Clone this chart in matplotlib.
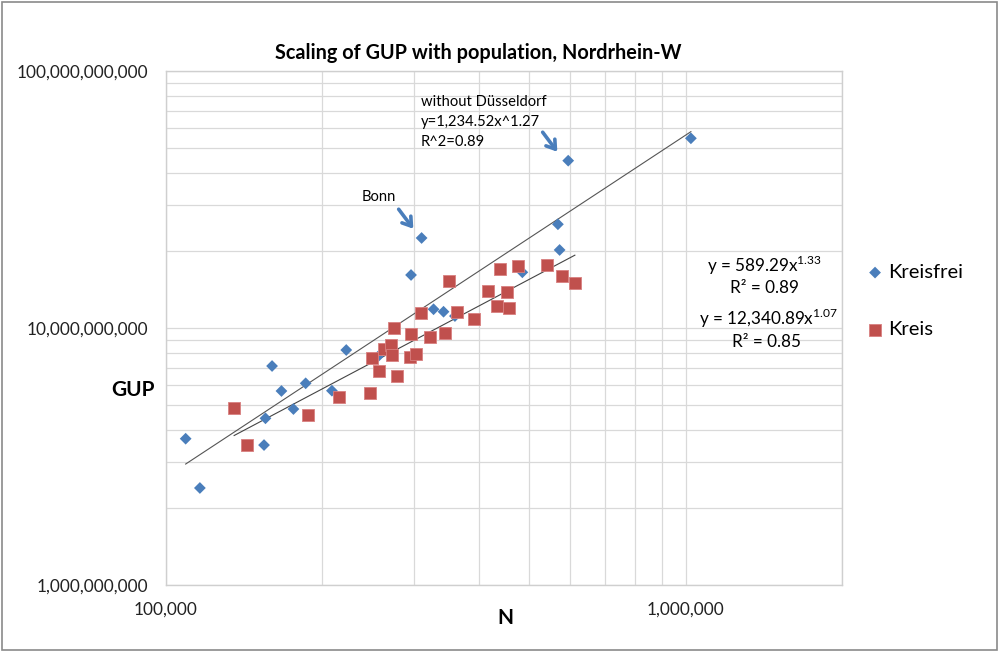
import numpy as np
import matplotlib
matplotlib.use("Agg")
import matplotlib.pyplot as plt
from matplotlib.ticker import LogLocator, FuncFormatter, NullFormatter
from matplotlib.patches import Rectangle, FancyArrowPatch

plt.rcParams['font.family'] = ['Lato', 'DejaVu Sans']
plt.rcParams['mathtext.fontset'] = 'custom'
plt.rcParams['mathtext.rm'] = 'Lato'

# kreisfreie Staedte: population, GUP
kf_pop = [109100, 116200, 154400, 155400, 160000, 166800, 175900, 185700, 208600,
          222300, 255600, 296200, 310400, 327300, 342100, 359800, 485100, 567900,
          572200, 594400, 1023800]
kf_gup = [3.709e9, 2.385e9, 3.504e9, 4.453e9, 7.114e9, 5.687e9, 4.838e9, 6.093e9,
          5.702e9, 8.211e9, 7.731e9, 1.608e10, 2.240e10, 1.183e10, 1.157e10,
          1.113e10, 1.647e10, 2.533e10, 2.012e10, 4.478e10, 5.472e10]

# Kreise: population, GUP
k_pop = [135250, 143350, 187500, 214800, 247500, 249100, 257500, 262300, 271200,
         272100, 275100, 277900, 294700, 296200, 302600, 309600, 322600, 344600,
         350800, 362900, 391900, 416900, 434400, 439000, 453900, 457300, 476000,
         541700, 578800, 612200]
k_gup = [4.868e9, 3.504e9, 4.586e9, 5.375e9, 5.570e9, 7.662e9, 6.801e9, 8.286e9,
         8.610e9, 7.830e9, 1.004e10, 6.505e9, 7.712e9, 9.478e9, 7.901e9, 1.139e10,
         9.226e9, 9.537e9, 1.530e10, 1.155e10, 1.081e10, 1.393e10, 1.221e10,
         1.696e10, 1.384e10, 1.200e10, 1.742e10, 1.758e10, 1.598e10, 1.492e10]

# power-law trendlines y = a * x^b
kf_a, kf_b = 589.29, 1.33
k_a, k_b = 12340.89, 1.07

blue = '#4a7ebb'
red = '#c0504d'
grid_c = '#d9d9d9'

W, H = 1000, 652
fig = plt.figure(figsize=(W / 100, H / 100), dpi=100)

def fx(px):
    return px / W

def fy(py):
    return 1 - py / H

ax = fig.add_axes([fx(166), fy(585), fx(842) - fx(166), fy(71) - fy(585)])
ax.set_xscale('log')
ax.set_yscale('log')
ax.set_xlim(1e5, 2e6)
ax.set_ylim(1e9, 1e11)

ax.xaxis.set_major_locator(LogLocator(base=10, numticks=10))
ax.xaxis.set_minor_locator(LogLocator(base=10, subs=np.arange(2, 10), numticks=20))
ax.yaxis.set_major_locator(LogLocator(base=10, numticks=10))
ax.yaxis.set_minor_locator(LogLocator(base=10, subs=np.arange(2, 10), numticks=20))
fmt = FuncFormatter(lambda v, p: '{:,.0f}'.format(v))
ax.xaxis.set_major_formatter(fmt)
ax.yaxis.set_major_formatter(fmt)
ax.xaxis.set_minor_formatter(NullFormatter())
ax.yaxis.set_minor_formatter(NullFormatter())
ax.grid(True, which='both', color=grid_c, lw=0.9)
ax.set_axisbelow(True)
ax.tick_params(which='both', length=0, labelsize=12.4, colors='#222222')
ax.tick_params(axis='x', pad=12)
ax.tick_params(axis='y', pad=13)
for s in ax.spines.values():
    s.set_color('#cfcfcf')
    s.set_linewidth(1.0)

# trendlines
xk = np.array([min(kf_pop), max(kf_pop)])
ax.plot(xk, kf_a * xk ** kf_b, color='#555555', lw=0.8, zorder=2)
xr = np.array([min(k_pop), max(k_pop)])
ax.plot(xr, k_a * xr ** k_b, color='#444444', lw=0.8, zorder=2)

ax.scatter(kf_pop, kf_gup, marker='D', s=36, color=blue, edgecolors='none',
           zorder=3, label='Kreisfrei')
ax.scatter(k_pop, k_gup, marker='s', s=66, color=red, edgecolors='#d98080',
           linewidths=0.6, zorder=3, label='Kreis')

# titles and axis labels
fig.text(fx(478), fy(53), 'Scaling of GUP with population, Nordrhein-W',
         ha='center', va='center', fontsize=14.3, fontweight='bold')
fig.text(fx(133), fy(390), 'GUP', ha='center', va='center', fontsize=15,
         fontweight='bold')
fig.text(fx(505), fy(618), 'N', ha='center', va='center', fontsize=15,
         fontweight='bold')

# annotations
fig.text(fx(362), fy(197), 'Bonn', ha='left', va='center', fontsize=10.6)
fig.text(fx(421), fy(102), 'without D\u00fcsseldorf', ha='left', va='center', fontsize=10.6)
fig.text(fx(421), fy(122), 'y=1,234.52x^1.27', ha='left', va='center', fontsize=10.6)
fig.text(fx(421), fy(142), 'R^2=0.89', ha='left', va='center', fontsize=10.6)
for p0, p1 in [((397, 207), (415, 231)), ((541, 130), (559, 154))]:
    fig.add_artist(FancyArrowPatch(
        (fx(p0[0]), fy(p0[1])), (fx(p1[0]), fy(p1[1])), transform=fig.transFigure,
        arrowstyle='->,head_length=6,head_width=4', color=blue, lw=2.6))

fig.text(fx(764), fy(265), r'y = 589.29x$^{\mathregular{1.33}}$', ha='center',
         va='center', fontsize=12.3)
fig.text(fx(764), fy(288), 'R\u00b2 = 0.89', ha='center', va='center', fontsize=12.3)
fig.text(fx(768), fy(318), r'y = 12,340.89x$^{\mathregular{1.07}}$', ha='center',
         va='center', fontsize=12.3)
fig.text(fx(767), fy(342), 'R\u00b2 = 0.85', ha='center', va='center', fontsize=12.3)

leg = ax.legend(loc='center left', bbox_to_anchor=(fx(869), fy(301)),
                bbox_transform=fig.transFigure, frameon=False, fontsize=14.5,
                handlelength=0.6, handletextpad=0.35, labelspacing=2.0,
                borderpad=0, borderaxespad=0)

fig.add_artist(Rectangle((fx(2), fy(650)), fx(995), fy(2) - fy(650),
                         transform=fig.transFigure, fill=False,
                         edgecolor='#8a8a8a', lw=1.2))

fig.savefig('out.png', dpi=100)
